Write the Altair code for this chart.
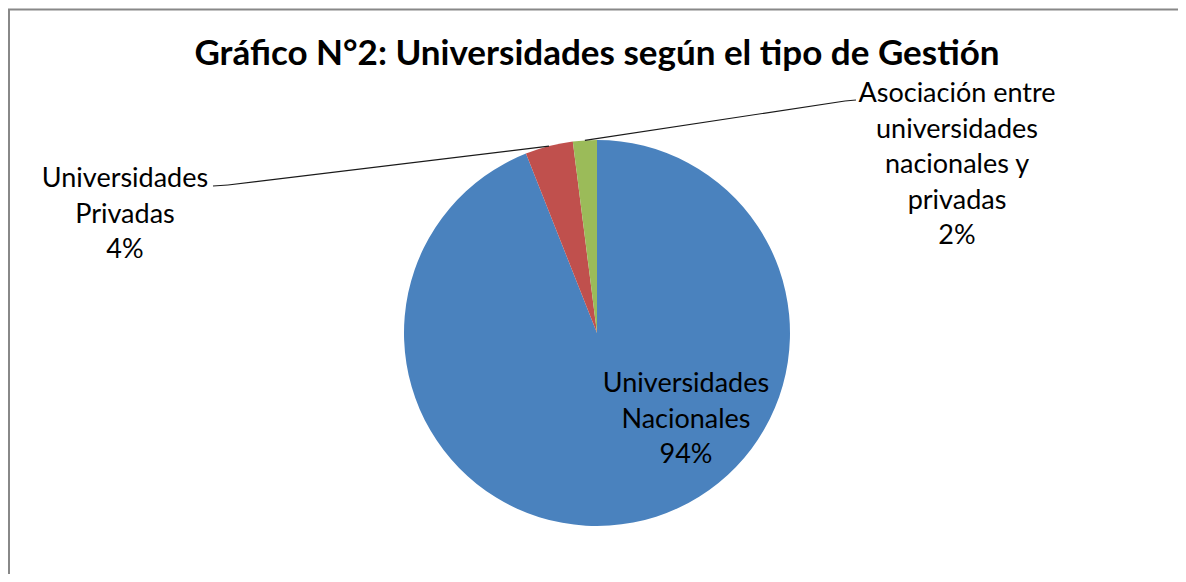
import math
import altair as alt
import pandas as pd

# ---- data ----
categories = [
    "Universidades Nacionales",
    "Universidades Privadas",
    "Asociación entre universidades nacionales y privadas",
]
values = [94, 4, 2]
label_lines = [
    ["Universidades", "Nacionales"],
    ["Universidades", "Privadas"],
    ["Asociación entre", "universidades", "nacionales y", "privadas"],
]
colors = ["#4A82BE", "#C0504D", "#9BBB59"]
title_text = "Gráfico N°2: Universidades según el tipo de Gestión"

# ---- layout ----
W, H = 1170, 566
CX, CY, R = 589, 325, 193
FONT = "Lato"
LABEL_SIZE = 27
LINE_H = 35.5

total = sum(values)
pcts = [f"{round(v / total * 100)}%" for v in values]
df = pd.DataFrame({"cat": categories, "value": values, "idx": list(range(len(values)))})

pie = alt.Chart(df).mark_arc(radius=R).encode(
    theta=alt.Theta("value:Q", stack=True),
    color=alt.Color("cat:N", scale=alt.Scale(domain=categories, range=colors), legend=None),
    order=alt.Order("idx:Q", sort="ascending"),
    x=alt.value(CX),
    y=alt.value(CY),
)

# mid-angle points on the pie edge (from the data)
mids = []
acc = 0
for v in values:
    mid = (acc + v / 2) / total * 2 * math.pi
    mids.append((CX + R * math.sin(mid), CY - R * math.cos(mid)))
    acc += v

def seg(x1, y1, x2, y2):
    return alt.Chart(df.head(1)).mark_rule(color="#1a1a1a", strokeWidth=1.2).encode(
        x=alt.value(x1), y=alt.value(y1), x2=alt.value(x2), y2=alt.value(y2)
    )

leaders = [
    seg(mids[1][0], mids[1][1], 220, 177),
    seg(220, 177, 205, 178),
    seg(mids[2][0], mids[2][1], 837, 93),
    seg(837, 93, 848, 92),
]

def label(lines, x, y):
    return alt.Chart(df.head(1)).mark_text(
        text=lines, font=FONT, fontSize=LABEL_SIZE, lineHeight=LINE_H,
        align="center", baseline="alphabetic", color="#000000",
    ).encode(x=alt.value(x), y=alt.value(y))

labels = [
    label(label_lines[0] + [pcts[0]], 678, 384),
    label(label_lines[1] + [pcts[1]], 117, 179),
    label(label_lines[2] + [pcts[2]], 949, 94),
]

title = alt.Chart(df.head(1)).mark_text(
    text=title_text, font=FONT, fontSize=35, fontWeight="bold",
    align="center", baseline="alphabetic", color="#000000",
).encode(x=alt.value(589), y=alt.value(57))

# outer chart frame: only top and left edges fall inside the picture
frame = alt.Chart(df.head(1)).mark_rect(
    fill="transparent", stroke="#888888", strokeWidth=2
).encode(x=alt.value(1), x2=alt.value(W + 60), y=alt.value(1.5), y2=alt.value(H + 60))

chart = alt.layer(pie, *leaders, *labels, title, frame).properties(
    width=W, height=H, autosize=alt.AutoSizeParams(type="none"), padding=0,
).configure(background="#ffffff").configure_view(strokeWidth=0, stroke="#ffffff", fill="#ffffff")

chart.save("out.html", embed_options={"renderer": "svg", "actions": False})
